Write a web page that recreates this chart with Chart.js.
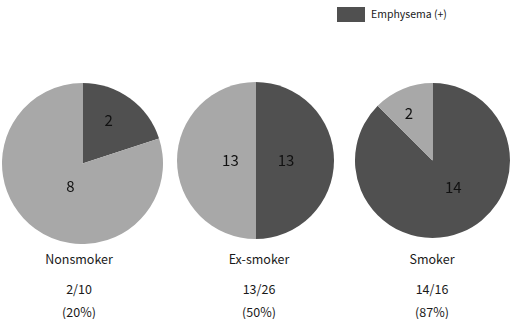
<!DOCTYPE html>
<html>
<head>
<meta charset="utf-8">
<script src="https://cdn.jsdelivr.net/npm/chart.js@4"></script>
<style>
  html,body{margin:0;padding:0;background:#fff;}
  #wrap{position:relative;width:516px;height:319px;overflow:hidden;font-family:"Noto Sans CJK JP","Noto Sans",sans-serif;color:#1a1a1a;}
  canvas{position:absolute;}
  .lbl{position:absolute;transform:translate(-50%,-50%);font-size:12.5px;line-height:1;white-space:nowrap;}
  #legend{position:absolute;left:337px;top:7px;display:flex;align-items:center;font-size:10.5px;line-height:1;}
  #legend span.box{display:inline-block;width:28px;height:15px;background:#505050;margin-right:6px;}
</style>
</head>
<body>
<div id="wrap">
  <div id="legend"><span class="box"></span><span id="legendText"></span></div>
</div>
<script>
const categories = ['Nonsmoker', 'Ex-smoker', 'Smoker'];
const emphysemaPos = [2, 13, 14];
const emphysemaNeg = [8, 13, 2];
const percentLabels = ['(20%)', '(50%)', '(87%)'];
const legendLabel = 'Emphysema (+)';

const darkColor = '#505050';
const lightColor = '#a8a8a8';

// layout (pixel boxes for each pie canvas, label x positions)
const pieBoxes = [
  {left: 2, top: 83, size: 161},
  {left: 177, top: 82, size: 157},
  {left: 355, top: 83, size: 155}
];
const labelX = [79, 259, 432];
const labelY = [259, 289, 312];
// data-label placement: fraction of radius and angle shift (deg) per slice
const labelPlace = [
  [{f: 0.63, a: -5}, {f: 0.32, a: -8}],
  [{f: 0.39, a: 0}, {f: 0.32, a: 0}],
  [{f: 0.44, a: -15}, {f: 0.68, a: -4}]
];

document.getElementById('legendText').textContent = legendLabel;
const wrap = document.getElementById('wrap');

const valueLabels = {
  id: 'valueLabels',
  afterDatasetsDraw(chart) {
    const ctx = chart.ctx;
    const meta = chart.getDatasetMeta(0);
    const place = chart.options.plugins.valueLabels.place;
    ctx.save();
    ctx.font = '15px "Noto Sans CJK JP", "Noto Sans", sans-serif';
    ctx.fillStyle = '#111';
    ctx.textAlign = 'center';
    ctx.textBaseline = 'middle';
    meta.data.forEach((arc, i) => {
      const p = arc.getProps(['x', 'y', 'startAngle', 'endAngle', 'outerRadius'], true);
      const mid = (p.startAngle + p.endAngle) / 2 + place[i].a * Math.PI / 180;
      const r = p.outerRadius * place[i].f;
      ctx.fillText(String(chart.data.datasets[0].data[i]), p.x + Math.cos(mid) * r, p.y + Math.sin(mid) * r);
    });
    ctx.restore();
  }
};

categories.forEach((cat, k) => {
  const b = pieBoxes[k];
  const cv = document.createElement('canvas');
  cv.width = b.size; cv.height = b.size;
  cv.style.left = b.left + 'px'; cv.style.top = b.top + 'px';
  cv.style.width = b.size + 'px'; cv.style.height = b.size + 'px';
  wrap.appendChild(cv);
  new Chart(cv, {
    type: 'pie',
    data: {
      labels: ['Emphysema (+)', 'Emphysema (-)'],
      datasets: [{
        data: [emphysemaPos[k], emphysemaNeg[k]],
        backgroundColor: [darkColor, lightColor],
        borderWidth: 0
      }]
    },
    options: {
      responsive: false,
      animation: false,
      devicePixelRatio: 1,
      layout: {padding: 0},
      plugins: {
        legend: {display: false},
        tooltip: {enabled: false},
        valueLabels: {place: labelPlace[k]}
      }
    },
    plugins: [valueLabels]
  });

  const texts = [cat, emphysemaPos[k] + '/' + (emphysemaPos[k] + emphysemaNeg[k]), percentLabels[k]];
  texts.forEach((t, j) => {
    const d = document.createElement('div');
    d.className = 'lbl';
    d.style.left = labelX[k] + 'px';
    d.style.top = labelY[j] + 'px';
    d.textContent = t;
    wrap.appendChild(d);
  });
});
</script>
</body>
</html>
